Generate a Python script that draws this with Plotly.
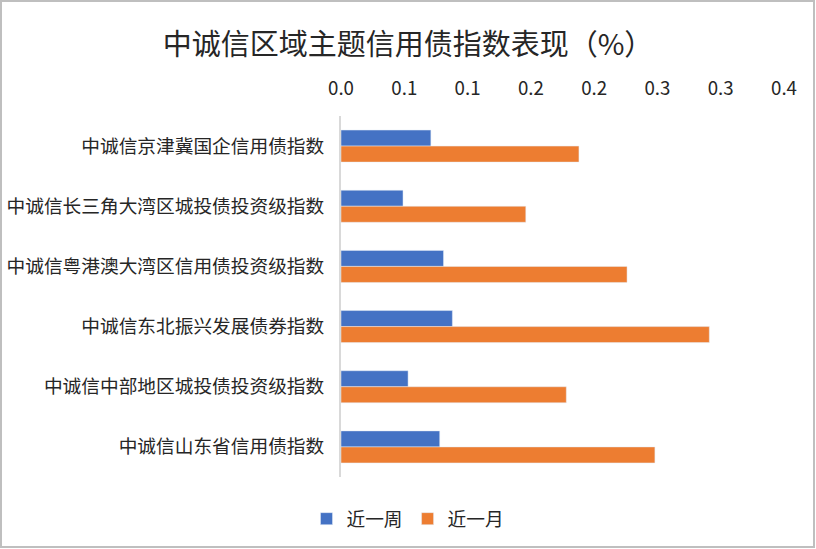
import plotly.graph_objects as go

# data
categories = [
    "中诚信京津冀国企信用债指数",
    "中诚信长三角大湾区城投债投资级指数",
    "中诚信粤港澳大湾区信用债投资级指数",
    "中诚信东北振兴发展债券指数",
    "中诚信中部地区城投债投资级指数",
    "中诚信山东省信用债指数",
]
week = [0.071, 0.049, 0.081, 0.088, 0.053, 0.078]
month = [0.188, 0.146, 0.226, 0.291, 0.178, 0.248]

tick_vals = [0, 0.05, 0.1, 0.15, 0.2, 0.25, 0.3, 0.35]
tick_text = ["0.0", "0.1", "0.1", "0.2", "0.2", "0.3", "0.3", "0.4"]

W, H = 816, 549
ML, MR, MT, MB = 341, 32, 116, 72
font = "Noto Sans CJK SC, Microsoft YaHei, sans-serif"
txt = "#262626"

fig = go.Figure()
fig.add_trace(go.Bar(y=categories, x=week, name="近一周", orientation="h",
                     marker_color="#4472c4"))
fig.add_trace(go.Bar(y=categories, x=month, name="近一月", orientation="h",
                     marker_color="#ed7d31"))

# light grey frame around the whole chart, converted to paper coords
pw, ph = W - ML - MR, H - MT - MB
def px(x):
    return (x - ML) / pw
def py(y):
    return (H - MB - y) / ph

fig.update_layout(
    width=W, height=H,
    margin=dict(l=ML, r=MR, t=MT, b=MB, autoexpand=False),
    paper_bgcolor="white", plot_bgcolor="white",
    font=dict(family=font, size=18.7, color=txt),
    title=dict(text="中诚信区域主题信用债指数表现（%）", x=0.5, xref="container",
               xanchor="center", y=1 - 45 / H, yanchor="middle",
               font=dict(size=29, color=txt)),
    barmode="group", bargap=0.467, bargroupgap=0,
    showlegend=True,
    legend=dict(orientation="h", x=0.5, xref="container", xanchor="center",
                y=1 - 519 / H, yref="container", yanchor="middle",
                font=dict(size=18.7, color=txt), itemwidth=30,
                traceorder="normal"),
    xaxis=dict(side="top", range=[0, 0.35], tickvals=tick_vals, ticktext=tick_text,
               showgrid=False, zeroline=False, showline=False, ticks="",
               automargin=False,
               ticklabelstandoff=16, tickfont=dict(size=18.7, color=txt)),
    yaxis=dict(autorange="reversed", showgrid=False, zeroline=False,
               showline=True, linecolor="#d9d9d9", linewidth=2, ticks="",
               automargin=False,
               ticklabelstandoff=11, tickfont=dict(size=18.7, color=txt)),
    shapes=[dict(type="rect", xref="paper", yref="paper",
                 x0=px(1), x1=px(814), y0=py(547), y1=py(1),
                 line=dict(color="#bfbfbf", width=2), layer="below")],
)

# drop the default body margin so the chart sits at the window's corner
fig.write_html("out.html", config={"displayModeBar": False},
               post_script="document.body.style.margin='0';"
                           "document.body.style.overflow='hidden';")
